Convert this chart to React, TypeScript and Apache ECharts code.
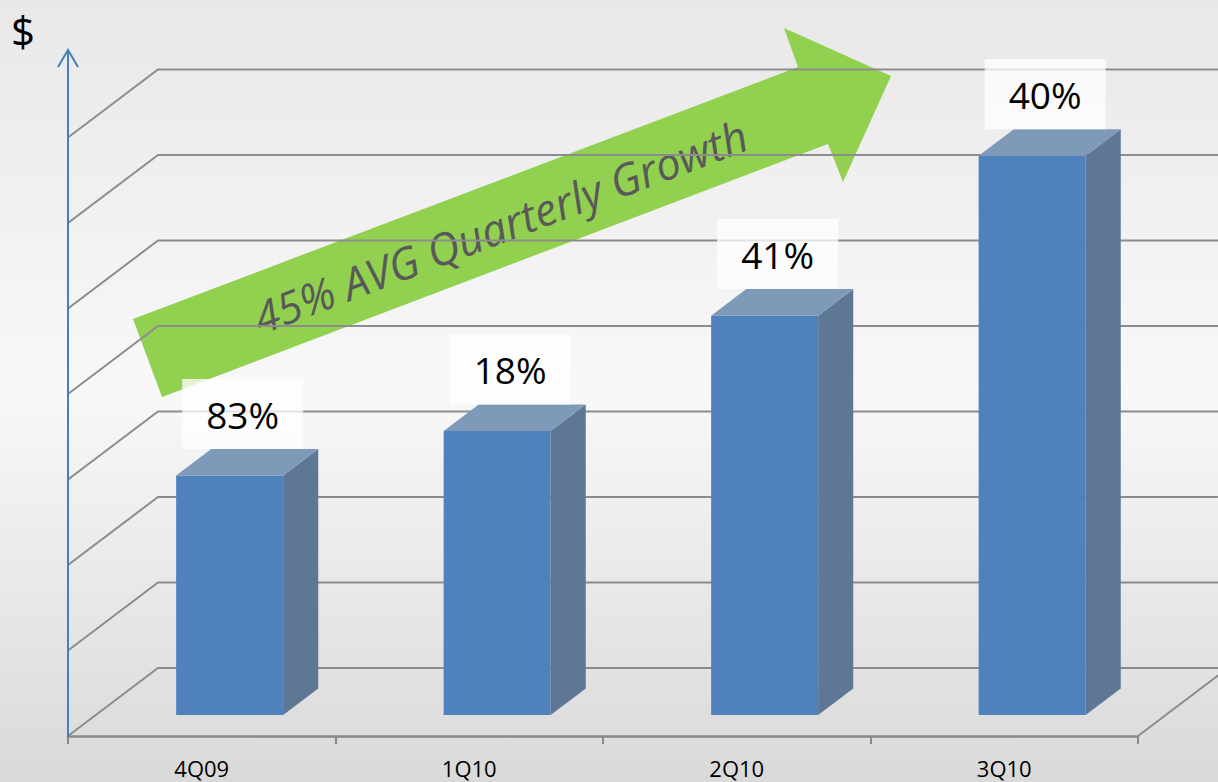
import React, { useEffect, useRef } from 'react';
import * as echarts from 'echarts';

// ---- data ----
const categories = ['4Q09', '1Q10', '2Q10', '3Q10'];
const values = [2.8, 3.32, 4.67, 6.54];
const growthLabels = ['83%', '18%', '41%', '40%'];
const gridTicks = [0, 1, 2, 3, 4, 5, 6, 7];
const arrowText = '45% AVG Quarterly Growth';
const unitLabel = '$';

// ---- layout / style constants ----
const W = 1218;
const H = 782;
const DEPTH_X = 90;
const DEPTH_Y = -68;
const BAR_D0 = 0.31;
const BAR_D1 = 0.7;
const BAR_WIDTH_RATIO = 0.4;
const LABEL_DX = 13;
const LABEL_W = 121;
const LABEL_H = 70;
const FONT = '"Open Sans", "Noto Sans", sans-serif';
const GRID_COLOR = '#8c8c8c';

export default function App() {
  const ref = useRef<HTMLDivElement>(null);

  useEffect(() => {
    if (!ref.current) return;
    const chart = echarts.init(ref.current, undefined, { renderer: 'svg' });

    const gridRender = (params: any, api: any) => {
      const v = api.value(1);
      const p = api.coord([0, v]);
      const cs = params.coordSys;
      const left = cs.x;
      const right = cs.x + cs.width;
      const y = p[1];
      const children: any[] = [
        {
          type: 'polyline',
          shape: {
            points: [
              [left, y],
              [left + DEPTH_X, y + DEPTH_Y],
              [right + DEPTH_X, y + DEPTH_Y],
            ],
          },
          style: { stroke: GRID_COLOR, lineWidth: 2, fill: 'none' },
        },
      ];
      if (v === 0) {
        children.push({
          type: 'line',
          shape: { x1: right, y1: y, x2: right + DEPTH_X, y2: y + DEPTH_Y },
          style: { stroke: GRID_COLOR, lineWidth: 2 },
        });
      }
      return { type: 'group', children };
    };

    const barRender = (params: any, api: any) => {
      const i = api.value(0);
      const v = api.value(1);
      const base = api.coord([i, 0]);
      const top = api.coord([i, v]);
      const band = api.size([1, 0])[0];
      const w = band * BAR_WIDTH_RATIO;
      const fx = DEPTH_X * BAR_D0;
      const fy = DEPTH_Y * BAR_D0;
      const dx = DEPTH_X * (BAR_D1 - BAR_D0);
      const dy = DEPTH_Y * (BAR_D1 - BAR_D0);
      const xl = base[0] + fx - w / 2;
      const xr = xl + w;
      const yb = base[1] + fy;
      const yt = top[1] + fy;
      const lcx = base[0] + fx + LABEL_DX;
      const lbottom = yt + dy;
      return {
        type: 'group',
        children: [
          {
            type: 'rect',
            shape: { x: xl, y: yt, width: w, height: yb - yt },
            style: { fill: '#4f81bd' },
          },
          {
            type: 'polygon',
            shape: {
              points: [
                [xr, yt],
                [xr + dx, yt + dy],
                [xr + dx, yb + dy],
                [xr, yb],
              ],
            },
            style: { fill: '#5e7795' },
          },
          {
            type: 'polygon',
            shape: {
              points: [
                [xl, yt],
                [xl + dx, yt + dy],
                [xr + dx, yt + dy],
                [xr, yt],
              ],
            },
            style: { fill: '#7f99b8' },
          },
          {
            type: 'rect',
            shape: { x: lcx - LABEL_W / 2, y: lbottom - LABEL_H, width: LABEL_W, height: LABEL_H },
            style: { fill: 'rgba(255,255,255,0.75)' },
          },
          {
            type: 'text',
            style: {
              text: growthLabels[params.dataIndex],
              x: lcx,
              y: lbottom - LABEL_H / 2,
              align: 'center',
              verticalAlign: 'middle',
              fill: '#000',
              fontSize: 37,
              fontFamily: FONT,
            },
          },
        ],
      };
    };

    const angle = (20.8 * Math.PI) / 180;

    chart.setOption({
      animation: false,
      backgroundColor: new echarts.graphic.LinearGradient(0, 0, 0, 1, [
        { offset: 0, color: '#e8e8e8' },
        { offset: 0.5, color: '#f8f8f8' },
        { offset: 1, color: '#d9d9d9' },
      ]),
      grid: { left: 68, right: W - 1138, top: 137.5, bottom: H - 736, containLabel: false },
      xAxis: {
        type: 'category',
        data: categories,
        boundaryGap: true,
        axisLine: { lineStyle: { color: '#898989', width: 2.5 } },
        axisTick: { show: true, length: 8, interval: 0, lineStyle: { color: '#898989', width: 2 } },
        axisLabel: { fontSize: 22, lineHeight: 18, color: '#000', margin: 23, fontFamily: FONT },
        splitLine: { show: false },
      },
      yAxis: {
        type: 'value',
        min: 0,
        max: 7,
        interval: 1,
        show: false,
      },
      graphic: [
        {
          type: 'polygon',
          z: 0,
          silent: true,
          shape: {
            points: [
              [133, 319],
              [798, 67],
              [784, 28],
              [891, 76],
              [843, 182],
              [828, 144],
              [162, 397],
            ],
          },
          style: { fill: '#92d050' },
        },
        {
          type: 'text',
          z: 0,
          silent: true,
          x: 500,
          y: 226,
          rotation: angle,
          style: {
            text: arrowText,
            align: 'center',
            verticalAlign: 'middle',
            fill: '#595959',
            fontSize: 44,
            fontStyle: 'italic',
            fontFamily: FONT,
          },
        },
        {
          type: 'line',
          z: 5,
          silent: true,
          shape: { x1: 68, y1: 737, x2: 68, y2: 50 },
          style: { stroke: '#4a7ebb', lineWidth: 2 },
        },
        {
          type: 'polyline',
          z: 5,
          silent: true,
          shape: { points: [[58, 67], [68, 50], [78, 67]] },
          style: { stroke: '#4a7ebb', lineWidth: 2, fill: 'none' },
        },
        {
          type: 'text',
          z: 5,
          silent: true,
          x: 23,
          y: 30,
          style: {
            text: unitLabel,
            align: 'center',
            verticalAlign: 'middle',
            fill: '#000',
            fontSize: 42,
            fontFamily: FONT,
          },
        },
      ],
      series: [
        {
          type: 'custom',
          z: 2,
          silent: true,
          renderItem: gridRender,
          data: gridTicks.map((t) => [0, t]),
        },
        {
          type: 'custom',
          z: 3,
          silent: true,
          renderItem: barRender,
          data: values.map((v, i) => [i, v]),
        },
      ],
    });

    return () => chart.dispose();
  }, []);

  return (
    <div
      ref={ref}
      style={{ position: 'absolute', left: 0, top: 0, width: W, height: H }}
    />
  );
}
